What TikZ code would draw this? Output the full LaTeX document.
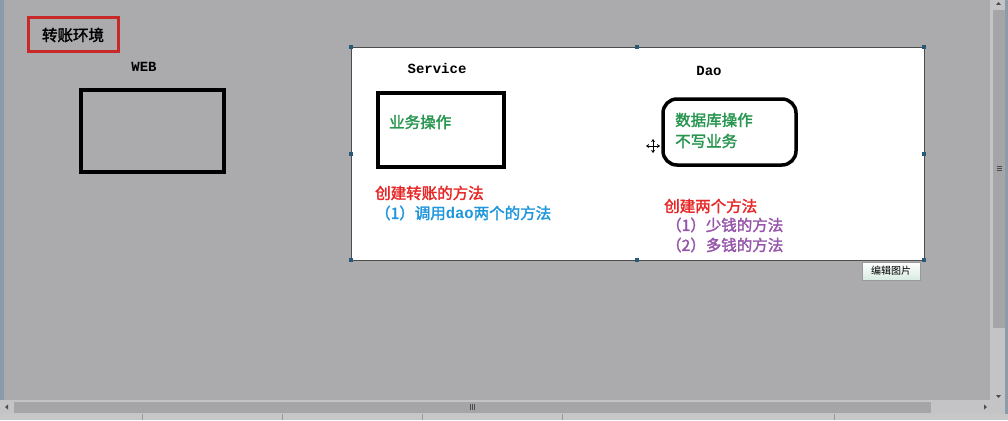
\documentclass[tikz,border=0pt]{standalone}
\usepackage{fontspec}
\newfontfamily\cjk{Noto Sans CJK SC}[AutoFakeBold=2]
\newfontfamily\lmono{Liberation Mono}
\usetikzlibrary{arrows.meta}
\definecolor{bggray}{RGB}{171,171,173}
\definecolor{boxred}{RGB}{200,40,40}
\definecolor{txtgreen}{RGB}{40,150,80}
\definecolor{txtred}{RGB}{232,40,40}
\definecolor{txtblue}{RGB}{30,150,220}
\definecolor{txtpurple}{RGB}{150,85,170}
\definecolor{handle}{RGB}{40,90,120}
\definecolor{scrolltrack}{RGB}{196,196,198}
\definecolor{scrollthumb}{RGB}{165,165,168}
\definecolor{edgeblue}{RGB}{140,155,170}
\definecolor{btnbottom}{RGB}{215,235,225}
\tikzset{
  ctext/.style={font=\cjk\bfseries\fontsize{15.5}{17}\selectfont, inner sep=0pt, anchor=west},
  mtext/.style={font=\lmono\bfseries\fontsize{14}{16}\selectfont, inner sep=0pt},
  thickbox/.style={draw=black, line width=3.5pt},
  handlebox/.style={fill=handle, minimum size=3.5pt, inner sep=0pt},
}
\begin{document}
\begin{tikzpicture}[x=1pt,y=-1pt]
\useasboundingbox (0,0) rectangle (1008,420);
% background
\fill[bggray] (0,0) rectangle (1008,420);
\fill[edgeblue] (0,0) rectangle (4,400);
% title box
\node[draw=boxred, line width=3pt, minimum width=90pt, minimum height=34pt, inner sep=0pt,
      font=\cjk\bfseries\fontsize{15.5}{17}\selectfont] (title) at (73,35) {转账环境};
% WEB
\node[mtext] (weblabel) at (144,67) {WEB};
\draw[thickbox] (81,90) rectangle (224,172);
\coordinate (webbox) at (152,131);
% white panel
\draw[fill=white, draw=black!70, line width=0.8pt] (351,47) rectangle (924,260);
\foreach \p/\n in {{351,47}/h1,{637,47}/h2,{924,47}/h3,{351,154}/h4,{924,154}/h5,{351,260}/h6,{637,260}/h7,{924,260}/h8}
  \node[handlebox] (\n) at (\p) {};
% Service
\node[mtext] (servicelabel) at (437,68) {Service};
\draw[thickbox] (378,93) rectangle (504,167);
\node[ctext, text=txtgreen] (yewu) at (389,122) {业务操作};
\node[ctext, text=txtred] (svc1) at (375,193) {创建转账的方法};
\node[ctext, text=txtblue] (svc2) at (375,213) {（1）调用{\lmono\bfseries dao}两个的方法};
% Dao
\node[mtext] (daolabel) at (709,71) {Dao};
\draw[thickbox, rounded corners=14pt] (663,99) rectangle (796,165);
\node[ctext, text=txtgreen] (dao1) at (675,120) {数据库操作};
\node[ctext, text=txtgreen] (dao2) at (675,141) {不写业务};
\node[ctext, text=txtred] (dao3) at (664,206) {创建两个方法};
\node[ctext, text=txtpurple] (dao4) at (666,225) {（1）少钱的方法};
\node[ctext, text=txtpurple] (dao5) at (666,245) {（2）多钱的方法};
% move cursor
\coordinate (cur) at (653,146);
\draw[black, line width=1pt, {Stealth[length=3pt,width=4pt]}-{Stealth[length=3pt,width=4pt]}] ([xshift=-7pt]cur) -- ([xshift=7pt]cur);
\draw[black, line width=1pt, {Stealth[length=3pt,width=4pt]}-{Stealth[length=3pt,width=4pt]}] ([yshift=-7pt]cur) -- ([yshift=7pt]cur);
% edit button
\node[draw=black!40, top color=white, bottom color=btnbottom, minimum width=58pt, minimum height=18pt, inner sep=0pt,
      font=\cjk\fontsize{10}{11}\selectfont] (editbtn) at (891,271) {编辑图片};
% vertical scrollbar
\fill[scrolltrack] (990,0) rectangle (1006,400);
\filldraw[fill=scrollthumb, draw=black!35] (993,10) rectangle (1004,327);
\fill[edgeblue] (1005,0) rectangle (1008,420);
\draw[black!70, line width=0.6pt] (996.5,166) -- (1001.5,166) (996.5,168) -- (1001.5,168) (996.5,170) -- (1001.5,170);
\fill[black!70] (996,5) -- (1001,5) -- (998.5,2) -- cycle;
\fill[black!70] (996,395) -- (1001,395) -- (998.5,398) -- cycle;
% horizontal scrollbar
\fill[scrolltrack] (0,400) rectangle (1005,414);
\filldraw[fill=scrollthumb, draw=black!35] (14,402) rectangle (930,412);
\draw[black!70, line width=0.6pt] (470,404) -- (470,410) (472,404) -- (472,410) (474,404) -- (474,410);
\fill[black!70] (8,404.5) -- (8,409.5) -- (5,407) -- cycle;
\fill[black!70] (984,404.5) -- (984,409.5) -- (987,407) -- cycle;
% status bar
\fill[black!22] (0,414) rectangle (1008,420);
\foreach \x in {142,282,422,562,834}
  \draw[black!40, line width=0.5pt] (\x,414) -- (\x,420);
\end{tikzpicture}
\end{document}
